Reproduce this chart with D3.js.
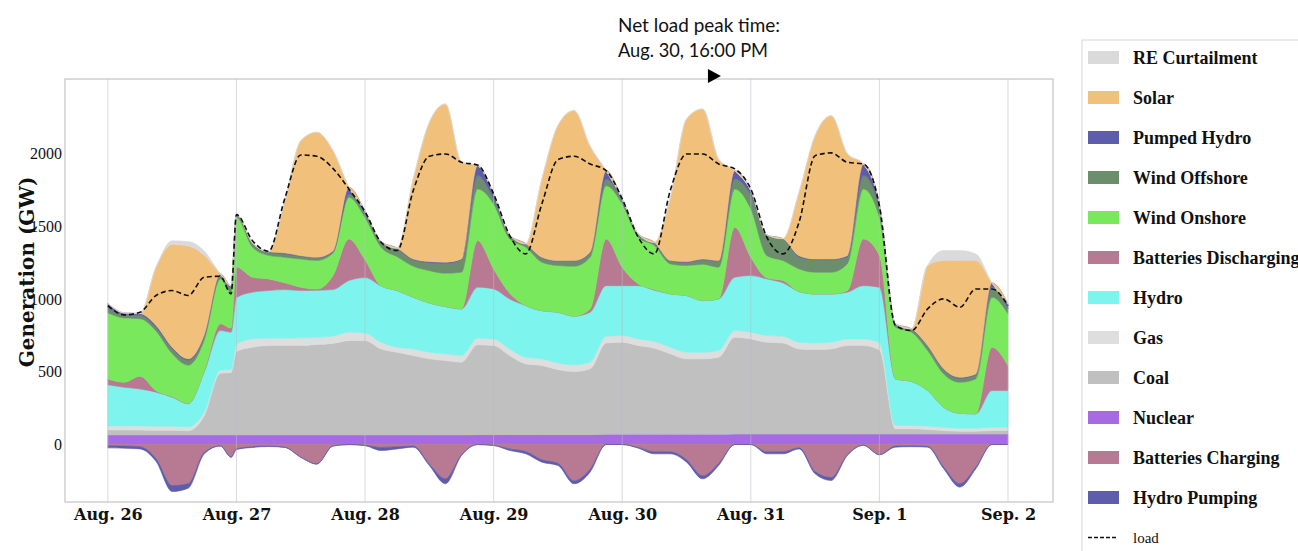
<!DOCTYPE html>
<html>
<head>
<meta charset="utf-8">
<script src="https://d3js.org/d3.v7.min.js"></script>
<style>
  body { margin: 0; background: #fff; }
  svg { display: block; }
</style>
</head>
<body>
<div id="chart"></div>
<script>
// hours after Aug. 26, 00:00
var hours = [0,3,6,9,12,15,18,21,23,24, 27,30,33,36,39,42,45,48,51,54,
  57,60,63,66,69,72,75,78,81,84, 87,90,93,96,99,102,105,108,111,114,
  117,120,123,126,129,132,135,138,141,144, 147,150,153,156,159,162,165,168];

// generation by source (GW)
var nuclear = [66,66,66,66,66,66,66,66,66,66, 66,66,66,66,66,66,66,66,66,66,
  66,66,66,66,68,68,68,68,68,68, 68,68,70,70,70,70,70,70,70,70,
  72,72,72,72,72,72,72,72,72,72, 72,72,72,72,72,72,72,72];
var coal = [34,34,34,32,32,29,134,424,429,574, 603,614,614,614,621,629,648,648,591,568,
  545,523,511,500,617,612,543,486,475,447, 433,452,628,633,610,592,553,519,519,530,
  665,654,631,626,585,581,585,608,608,578, 36,36,31,24,20,20,24,24];
var gas = [28,28,28,28,28,27,25,20,20,50, 57,50,50,53,50,50,58,53,46,35,
  46,45,46,45,46,46,46,46,46,46, 46,46,46,46,46,46,46,45,45,46,
  46,46,46,46,46,45,46,46,46,50, 23,23,23,23,20,20,23,23];
var hydro = [282,266,254,234,199,158,275,273,257,320, 321,328,335,325,323,320,355,380,387,389,
  355,339,325,321,350,343,343,355,331,348, 335,343,348,343,366,352,366,390,355,354,
  367,389,389,367,348,337,332,321,366,380, 320,302,245,137,103,99,252,252];
var battDis = [41,34,88,10,5,2,5,47,28,210, 103,80,46,23,8,95,286,123,0,0,
  0,0,0,0,320,138,40,0,0,0, 0,23,321,126,12,5,0,0,0,0,
  343,126,7,16,0,0,0,10,321,220, 0,0,0,0,0,0,298,172];
var windOn = [454,442,395,410,295,263,215,308,247,340, 206,162,176,194,197,155,286,290,266,232,
  213,222,229,252,355,446,373,401,333,321, 343,355,366,435,320,302,206,206,250,218,
  263,332,153,137,156,149,149,184,343,260, 355,339,275,229,213,240,343,355];
var windOff = [35,25,25,25,35,35,25,27,33,15, 23,20,23,20,19,10,23,30,34,55,
  45,55,68,86,92,35,23,22,29,30, 35,28,46,23,16,18,19,22,31,42,
  69,96,138,149,83,86,86,49,92,60, 19,18,29,30,27,29,69,34];
var pumped = [30,10,10,13,9,9,10,7,10,5, 6,5,7,3,3,5,46,15,5,5,
  5,7,8,5,69,34,4,2,5,4, 4,6,57,12,7,5,4,5,5,4,
  57,30,4,2,8,5,5,8,80,30, 4,5,5,5,7,5,30,34];
var solar = [0,0,0,402,706,776,545,0,0,0, 0,0,353,790,859,690,0,0,0,0,
  550,957,1087,665,0,0,0,0,538,928, 1031,729,0,0,0,0,436,980,1031,696,
  0,0,0,0,435,848,985,702,0,0, 0,0,550,744,802,779,0,0];
var curtail = [0,0,0,0,25,30,30,0,0,0, 0,0,0,0,0,0,0,0,0,0,
  0,0,0,0,0,0,0,0,0,0, 0,0,0,0,0,0,0,0,0,0,
  0,0,0,0,0,0,0,0,0,0, 0,0,0,69,69,46,0,0];
// consumption (negative)
var battCh = [-8,-10,-15,-98,-282,-270,-53,-10,-87,-30, -15,-10,-18,-87,-133,-10,0,-5,-20,-15,
  -10,-134,-235,-70,0,-5,-30,-48,-105,-129, -250,-170,0,0,-20,-50,-50,-105,-216,-130,
  0,0,-50,-50,-22,-186,-227,-70,-5,-70, -10,-8,-12,-155,-270,-155,0,0];
var hydroPump = [-15,-15,-15,-19,-41,-30,-11,0,0,-5, -5,-4,-2,0,-2,0,0,-3,-21,-15,
  -8,-10,-35,-6,0,-2,-11,-16,-16,-15, -20,-20,0,0,-5,-14,-14,-16,-20,-14,
  0,0,-14,-14,-8,-15,-20,-6,0,0, -8,-7,-6,-12,-23,-12,0,0];
var load = [955,891,909,1024,1058,1024,1150,1156,1035,1580, 1401,1328,1688,1990,1981,1898,1756,1600,1390,1333,
  1745,1981,1997,1940,1921,1722,1436,1310,1653,1958, 1981,1928,1882,1688,1424,1310,1750,1997,1997,1928,
  1894,1756,1424,1310,1527,1985,2004,1940,1928,1640, 818,783,932,1001,943,1069,1069,955];

var peakHour = 4 * 24 + 16;   // Aug. 30, 16:00
var yTicks = [0, 500, 1000, 1500, 2000];

var posKeys = ['nuclear','coal','gas','hydro','battDis','windOn','windOff','pumped','solar','curtail'];
var negKeys = ['battCh','hydroPump'];
var legendKeys = ['curtail','solar','pumped','windOff','windOn','battDis','hydro','gas','coal','nuclear','battCh','hydroPump'];
var labels = {
  curtail: 'RE Curtailment', solar: 'Solar', pumped: 'Pumped Hydro', windOff: 'Wind Offshore',
  windOn: 'Wind Onshore', battDis: 'Batteries Discharging', hydro: 'Hydro', gas: 'Gas',
  coal: 'Coal', nuclear: 'Nuclear', battCh: 'Batteries Charging', hydroPump: 'Hydro Pumping'
};
var colors = {
  curtail: '#dadada', solar: '#f1c07b', pumped: '#5d5dab', windOff: '#6c8e6c',
  windOn: '#7ae85c', battDis: '#b87a92', hydro: '#7df4ee', gas: '#dedede',
  coal: '#c0c0c0', nuclear: '#a66be3', battCh: '#b87a92', hydroPump: '#5d5dab'
};

var W = 1298, H = 551;
var margin = {top: 79, right: 245, bottom: 49, left: 65};

var start = new Date(2020, 7, 26);
function atHour(h) { return new Date(+start + h * 36e5); }

var rows = hours.map(function(h, i) {
  return {
    date: atHour(h), nuclear: nuclear[i], coal: coal[i], gas: gas[i], hydro: hydro[i],
    battDis: battDis[i], windOn: windOn[i], windOff: windOff[i], pumped: pumped[i],
    solar: solar[i], curtail: curtail[i], battCh: battCh[i], hydroPump: hydroPump[i],
    load: load[i]
  };
});

var svg = d3.select('#chart').append('svg')
  .attr('width', W).attr('height', H);

var x = d3.scaleTime()
  .domain([atHour(-8), atHour(168 + 8.4)])
  .range([margin.left, W - margin.right]);
var y = d3.scaleLinear()
  .domain([-395, 2512])
  .range([H - margin.bottom, margin.top]);

svg.append('clipPath').attr('id', 'plot')
  .append('rect')
  .attr('x', margin.left).attr('y', margin.top)
  .attr('width', W - margin.right - margin.left)
  .attr('height', H - margin.bottom - margin.top);

var area = d3.area()
  .x(function(d) { return x(d.data.date); })
  .y0(function(d) { return y(d[0]); })
  .y1(function(d) { return y(d[1]); })
  .curve(d3.curveMonotoneX);

var posStack = d3.stack().keys(posKeys)(rows);
var negStack = d3.stack().keys(negKeys)(rows);

var g = svg.append('g').attr('clip-path', 'url(#plot)');

g.selectAll('.layer')
  .data(posStack.concat(negStack))
  .enter().append('path')
  .attr('class', 'layer')
  .attr('d', area)
  .attr('fill', function(d) { return colors[d.key]; })
  .attr('stroke', function(d) { return colors[d.key]; })
  .attr('stroke-width', 0.6);

// day grid lines
var days = d3.range(8).map(function(d) { return d3.timeDay.offset(start, d); });
g.selectAll('.grid')
  .data(days)
  .enter().append('line')
  .attr('class', 'grid')
  .attr('x1', function(d) { return x(d); })
  .attr('x2', function(d) { return x(d); })
  .attr('y1', margin.top).attr('y2', H - margin.bottom)
  .attr('stroke', '#b8bcc8')
  .attr('stroke-opacity', 0.55)
  .attr('stroke-width', 1);

var loadLine = d3.line()
  .x(function(d) { return x(d.date); })
  .y(function(d) { return y(d.load); })
  .curve(d3.curveMonotoneX);

g.append('path')
  .datum(rows)
  .attr('d', loadLine)
  .attr('fill', 'none')
  .attr('stroke', '#111')
  .attr('stroke-width', 1.6)
  .attr('stroke-dasharray', '5,3');

// frame
svg.append('rect')
  .attr('x', margin.left).attr('y', margin.top)
  .attr('width', W - margin.right - margin.left)
  .attr('height', H - margin.bottom - margin.top)
  .attr('fill', 'none')
  .attr('stroke', '#c4c4c4')
  .attr('stroke-width', 1.2);

// axes
var xAxis = svg.append('g')
  .attr('transform', 'translate(0,' + (H - margin.bottom) + ')')
  .call(d3.axisBottom(x).tickValues(days).tickFormat(d3.timeFormat('%b. %-d')).tickSize(0).tickPadding(7));
xAxis.select('.domain').remove();
xAxis.selectAll('text')
  .attr('font-family', 'DejaVu Serif')
  .attr('font-weight', 'bold')
  .attr('font-size', 16)
  .attr('fill', '#111');

var yAxis = svg.append('g')
  .attr('transform', 'translate(' + margin.left + ',0)')
  .call(d3.axisLeft(y).tickValues(yTicks).tickFormat(d3.format('d')).tickSize(0).tickPadding(3));
yAxis.select('.domain').remove();
yAxis.selectAll('text')
  .attr('font-family', 'Liberation Serif')
  .attr('font-size', 16)
  .attr('fill', '#111');

svg.append('text')
  .attr('transform', 'translate(27,272) rotate(-90)')
  .attr('text-anchor', 'middle')
  .attr('dy', '0.35em')
  .attr('font-family', 'DejaVu Serif')
  .attr('font-weight', 'bold')
  .attr('font-size', 20)
  .attr('fill', '#111')
  .text('Generation (GW)');

// peak annotation
var px = x(atHour(peakHour));
svg.append('path')
  .attr('d', 'M' + px + ',69 L' + px + ',83 L' + (px + 13) + ',76 Z')
  .attr('fill', '#000');

svg.append('text')
  .attr('x', 618).attr('y', 32)
  .attr('font-family', 'Lato')
  .attr('font-size', 20)
  .attr('textLength', 162)
  .attr('lengthAdjust', 'spacingAndGlyphs')
  .attr('fill', '#111')
  .text('Net load peak time:');
svg.append('text')
  .attr('x', 618).attr('y', 57)
  .attr('font-family', 'Lato')
  .attr('font-size', 20)
  .attr('textLength', 150)
  .attr('lengthAdjust', 'spacingAndGlyphs')
  .attr('fill', '#111')
  .text('Aug. 30, 16:00 PM');

// legend
var legend = svg.append('g');
legend.append('rect')
  .attr('x', 1082).attr('y', 40)
  .attr('width', 240).attr('height', 540)
  .attr('fill', '#fff')
  .attr('stroke', '#d6d6d6');

var item = legend.selectAll('.item')
  .data(legendKeys)
  .enter().append('g')
  .attr('class', 'item')
  .attr('transform', function(d, i) { return 'translate(1088,' + (57.5 + i * 40) + ')'; });

item.append('rect')
  .attr('x', 0).attr('y', -6.5)
  .attr('width', 31).attr('height', 13)
  .attr('fill', function(d) { return colors[d]; });

item.append('text')
  .attr('x', 45).attr('dy', '0.35em')
  .attr('font-family', 'Liberation Serif')
  .attr('font-weight', 'bold')
  .attr('font-size', 18)
  .attr('fill', '#111')
  .text(function(d) { return labels[d]; });

var ly = 57.5 + legendKeys.length * 40;
legend.append('line')
  .attr('x1', 1088).attr('x2', 1118)
  .attr('y1', ly).attr('y2', ly)
  .attr('stroke', '#111')
  .attr('stroke-width', 1.4)
  .attr('stroke-dasharray', '4,2');
legend.append('text')
  .attr('x', 1133).attr('y', ly).attr('dy', '0.35em')
  .attr('font-family', 'Liberation Serif')
  .attr('font-size', 15)
  .attr('fill', '#111')
  .text('load');
</script>
</body>
</html>
